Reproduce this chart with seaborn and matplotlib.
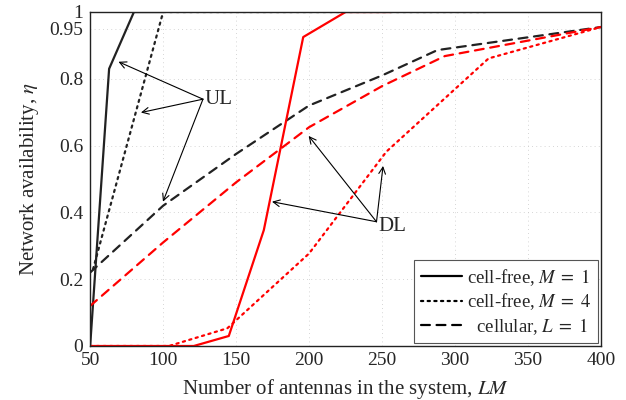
import matplotlib
matplotlib.use('Agg')
import matplotlib.pyplot as plt
import numpy as np
import pandas as pd
import seaborn as sns

# UL curves (black)
ul_free1_x = [50, 63, 80, 100]
ul_free1_y = [0.0, 0.83, 1.0, 1.0]
ul_free4_x = [52, 100, 322]
ul_free4_y = [0.23, 1.0, 1.0]
ul_cell_x = [50, 100, 150, 200, 250, 288, 400]
ul_cell_y = [0.22, 0.42, 0.575, 0.72, 0.81, 0.886, 0.955]

# DL curves (red)
dl_free1_x = [50, 121, 145, 169, 196, 225, 256]
dl_free1_y = [0.0, 0.0, 0.03, 0.347, 0.925, 1.0, 1.0]
dl_free4_x = [50, 104, 144, 200, 253, 323, 400]
dl_free4_y = [0.0, 0.0, 0.053, 0.277, 0.582, 0.861, 0.955]
dl_cell_x = [50, 100, 150, 200, 250, 293, 400]
dl_cell_y = [0.12, 0.31, 0.49, 0.655, 0.778, 0.868, 0.955]

x_ticks = [50, 100, 150, 200, 250, 300, 350, 400]
y_ticks = [0, 0.2, 0.4, 0.6, 0.8, 0.95, 1]
y_tick_labels = ['0', '0.2', '0.4', '0.6', '0.8', '0.95', '1']

sns.set_theme(style='white')
plt.rcParams['font.family'] = ['Liberation Serif', 'DejaVu Serif']
plt.rcParams['mathtext.fontset'] = 'stix'

fig = plt.figure(figsize=(6.26, 4.0), dpi=100)
ax = fig.add_axes([0.144, 0.135, 0.816, 0.835])

lw = 1.6
dot = (0, (1, 2))
dash = (0, (4, 3))

sns.lineplot(x=ul_free1_x, y=ul_free1_y, color='#222222', lw=lw, ax=ax, label='cell-free, $M\\;=\\;1$')
sns.lineplot(x=ul_free4_x, y=ul_free4_y, color='#222222', lw=lw, ax=ax, label='cell-free, $M\\;=\\;4$')
sns.lineplot(x=ul_cell_x, y=ul_cell_y, color='#222222', lw=lw, ax=ax, label='  cellular, $L\\;=\\;1$')
sns.lineplot(x=dl_free1_x, y=dl_free1_y, color='red', lw=lw, ax=ax)
sns.lineplot(x=dl_free4_x, y=dl_free4_y, color='red', lw=lw, ax=ax)
sns.lineplot(x=dl_cell_x, y=dl_cell_y, color='red', lw=lw, ax=ax)

styles = ['-', dot, dash, '-', dot, dash]
for line, ls in zip(ax.get_lines(), styles):
    line.set_linestyle(ls)
    line.set_dash_capstyle('round')

ax.set_xlim(50, 400)
ax.set_ylim(0, 1)
ax.set_xticks(x_ticks)
ax.set_yticks(y_ticks)
ax.set_yticklabels(y_tick_labels)
ax.tick_params(labelsize=14, direction='in', length=3, color='#888888')
ax.tick_params(axis='y', pad=5)
ax.tick_params(axis='x', pad=4)
ax.grid(True, linestyle=(0, (1, 4)), color='#c8c8c8', lw=0.6)
for s in ax.spines.values():
    s.set_color('#222222')
    s.set_linewidth(1.0)

ax.set_xlabel('Number of antennas in the system, $LM$', fontsize=15, labelpad=6)
ax.set_ylabel('Network availability, $\\eta$', fontsize=15, labelpad=6)

# arrows UL
ul_tips = [(69.4, 0.851), (84.8, 0.699), (99.9, 0.432)]
for tip in ul_tips:
    ax.annotate('', xy=tip, xytext=(127.3, 0.739),
                arrowprops=dict(arrowstyle='->', lw=0.8, color='black', shrinkA=0, shrinkB=0))
ax.text(128.5, 0.737, 'UL', fontsize=15, ha='left', va='center')

dl_tips = [(174.6, 0.432), (199.7, 0.629), (250.7, 0.539)]
for tip in dl_tips:
    ax.annotate('', xy=tip, xytext=(246.2, 0.372),
                arrowprops=dict(arrowstyle='->', lw=0.8, color='black', shrinkA=0, shrinkB=0))
ax.text(247.3, 0.357, 'DL', fontsize=15, ha='left', va='center')

leg = ax.legend(loc='lower right', fontsize=13.5, frameon=True, fancybox=False,
                edgecolor='#555555', framealpha=1, handlelength=2.2,
                handletextpad=0.3, borderpad=0.35, labelspacing=0.2,
                borderaxespad=0.15)
leg.get_frame().set_linewidth(0.8)
for h, ls in zip(leg.get_lines(), styles[:3]):
    h.set_color('black')
    h.set_linestyle(ls)

fig.savefig('out.png', dpi=100)
